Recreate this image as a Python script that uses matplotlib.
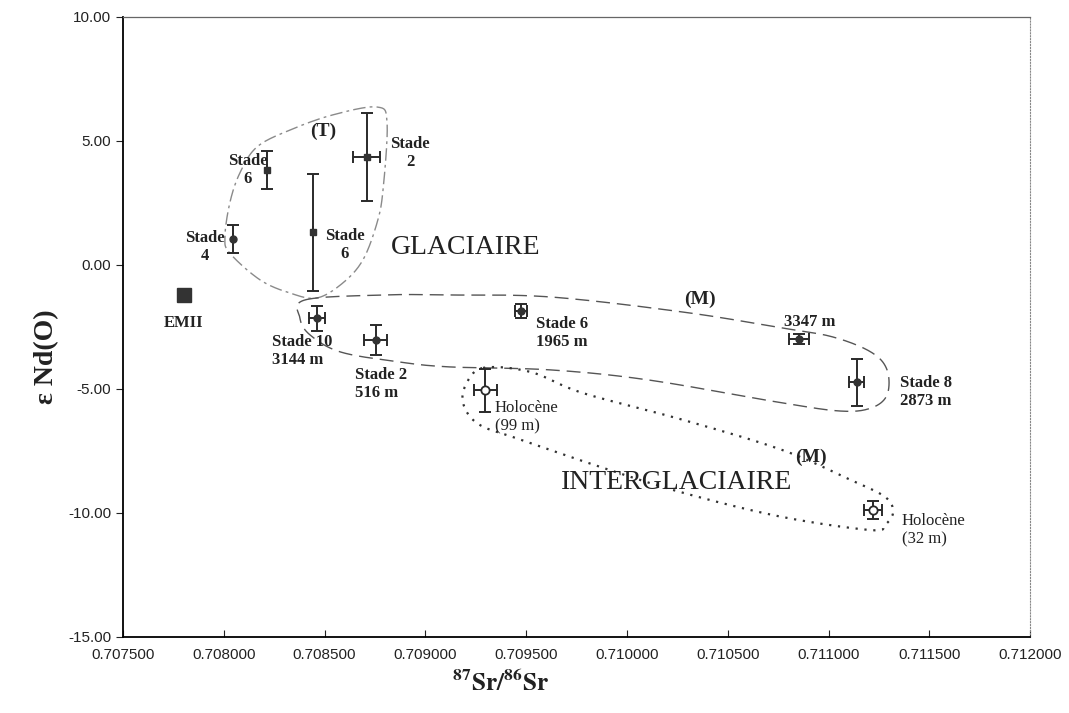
import numpy as np
import matplotlib.pyplot as plt

# Données : rapport 87Sr/86Sr et epsilon Nd(O) des échantillons
noms = ['EMII', 'Stade 4', 'Stade 6', 'Stade 6', 'Stade 2', 'Stade 10', 'Stade 2',
        'Stade 6', 'Holocène', '3347 m', 'Stade 8', 'Holocène']
sr = [0.707803, 0.708044, 0.708213, 0.708444, 0.708709, 0.708461, 0.708755,
      0.709473, 0.709296, 0.710853, 0.711139, 0.711219]
nd = [-1.21, 1.05, 3.82, 1.32, 4.35, -2.15, -3.02, -1.84, -5.05, -3.00, -4.73, -9.88]
err_sr = [0, 0, 0, 0, 0.000066, 0.000039, 0.000057, 0.000030, 0.000057, 0.000050,
          0.000037, 0.000045]
err_nd = [0, 0.55, 0.76, 2.35, 1.77, 0.50, 0.60, 0.28, 0.87, 0.20, 0.94, 0.37]

# Contours tracés à la main autour des groupes (coordonnées des données)
contour_T_x = [0.70876, 0.70881, 0.70879, 0.70876, 0.70869, 0.70859, 0.708462, 0.708328,
               0.70818, 0.70803, 0.708006, 0.70803, 0.70808, 0.708165, 0.708328, 0.70854]
contour_T_y = [6.37, 5.73, 3.02, 1.69, 0.20, -0.73, -1.33, -1.13, -0.60, 0.48, 1.13,
               2.50, 3.71, 4.76, 5.44, 6.05]
contour_M_x = [0.708403, 0.70879, 0.70912, 0.70962, 0.71028, 0.71077, 0.71102, 0.71121,
               0.71129, 0.71129, 0.71121, 0.71106, 0.71077, 0.71011, 0.70962, 0.70912,
               0.70887, 0.70858, 0.708428, 0.708378]
contour_M_y = [-1.41, -1.21, -1.21, -1.29, -1.90, -2.54, -2.90, -3.51, -4.23, -5.24,
               -5.77, -5.89, -5.56, -4.64, -4.23, -4.11, -3.91, -3.51, -2.82, -2.14]
contour_I_x = [0.709286, 0.70952, 0.70978, 0.71028, 0.71077, 0.71111, 0.71128, 0.71132,
               0.71128, 0.71121, 0.71077, 0.71028, 0.70987, 0.70948, 0.70927, 0.70919,
               0.70920]
contour_I_y = [-4.15, -4.31, -5.16, -6.25, -7.46, -8.67, -9.35, -9.96, -10.48, -10.69,
               -10.16, -9.19, -8.15, -7.06, -6.45, -5.65, -4.84]


def courbe_fermee(xs, ys, n=20):
    # Spline de Catmull-Rom fermée pour lisser le contour
    P = np.column_stack([xs, ys])
    m = len(P)
    t = np.linspace(0, 1, n, endpoint=False)[:, None]
    seg = []
    for i in range(m):
        p0, p1, p2, p3 = P[i - 1], P[i], P[(i + 1) % m], P[(i + 2) % m]
        seg.append(0.5 * (2 * p1 + (-p0 + p2) * t + (2 * p0 - 5 * p1 + 4 * p2 - p3) * t ** 2
                          + (-p0 + 3 * p1 - 3 * p2 + p3) * t ** 3))
    c = np.vstack(seg + [seg[0][:1]])
    return c[:, 0], c[:, 1]


plt.rcParams['mathtext.fontset'] = 'stix'
serif = ['Liberation Serif', 'DejaVu Serif']
sans = ['Liberation Sans', 'DejaVu Sans']

fig = plt.figure(figsize=(10.69, 7.13), dpi=100)
ax = fig.add_axes([0.115, 0.1066, 0.8487, 0.8696])

# Contours
cx, cy = courbe_fermee(contour_T_x, contour_T_y)
ax.plot(cx, cy, color='#8a8a8a', lw=1.0, dashes=(9, 3, 2, 3))
cx, cy = courbe_fermee(contour_M_x, contour_M_y)
ax.plot(cx, cy, color='#555555', lw=1.0, dashes=(10, 5))
cx, cy = courbe_fermee(contour_I_x, contour_I_y)
ax.plot(cx, cy, color='#333333', lw=1.6, dashes=(1, 3))

# Barres d'erreur et points
sr = np.array(sr)
nd = np.array(nd)
err_sr = np.array(err_sr)
err_nd = np.array(err_nd)
carres = [2, 3, 4]
ronds = [1, 5, 6, 7, 9, 10]
ouverts = [8, 11]

ax.errorbar(sr[1:], nd[1:], xerr=err_sr[1:], yerr=err_nd[1:], fmt='none',
            ecolor='#2a2a2a', elinewidth=1.4, capsize=4, capthick=1.4)
ax.plot(sr[[0]], nd[[0]], 's', ms=10, color='#333333')
ax.plot(sr[carres], nd[carres], 's', ms=5, color='#333333')
ax.plot(sr[ronds], nd[ronds], 'o', ms=5, color='#333333')
ax.plot(sr[ouverts], nd[ouverts], 'o', ms=6, mfc='white', mec='#2a2a2a', mew=1.3)

# Étiquettes
gras = dict(family=serif, fontsize=12, fontweight='bold', color='#222222')
normal = dict(family=serif, fontsize=12, color='#222222')
ax.text(0.708492, 5.40, '(T)', ha='center', va='center', family=serif, fontsize=14,
        fontweight='bold', color='#222222')
ax.text(0.708120, 3.83, 'Stade\n6', ha='center', va='center', multialignment='center', **gras)
ax.text(0.708924, 4.52, 'Stade\n2', ha='center', va='center', multialignment='center', **gras)
ax.text(0.707907, 0.73, 'Stade\n4', ha='center', va='center', multialignment='center', **gras)
ax.text(0.708601, 0.81, 'Stade\n6', ha='center', va='center', multialignment='center', **gras)
ax.text(0.709201, 0.69, 'GLACIAIRE', ha='center', va='center', family=serif, fontsize=20,
        color='#222222')
ax.text(0.707803, -2.34, 'EMII', ha='center', va='center', **gras)
ax.text(0.708239, -3.47, 'Stade 10\n3144 m', ha='left', va='center', **gras)
ax.text(0.708651, -4.80, 'Stade 2\n516 m', ha='left', va='center', **gras)
ax.text(0.709549, -2.74, 'Stade 6\n1965 m', ha='left', va='center', **gras)
ax.text(0.710362, -1.37, '(M)', ha='center', va='center', family=serif, fontsize=14,
        fontweight='bold', color='#222222')
ax.text(0.710908, -2.31, '3347 m', ha='center', va='center', **gras)
ax.text(0.711354, -5.12, 'Stade 8\n2873 m', ha='left', va='center', **gras)
ax.text(0.709345, -6.13, 'Holocène\n(99 m)', ha='left', va='center', **normal)
ax.text(0.710911, -7.77, '(M)', ha='center', va='center', family=serif, fontsize=14,
        fontweight='bold', color='#222222')
ax.text(0.710247, -8.76, 'INTERGLACIAIRE', ha='center', va='center', family=serif,
        fontsize=20, color='#222222')
ax.text(0.711362, -10.69, 'Holocène\n(32 m)', ha='left', va='center', **normal)

# Axes
ax.set_xlim(0.7075, 0.712)
ax.set_ylim(-15, 10)
ax.set_xticks(np.arange(0.7075, 0.71201, 0.0005))
ax.set_yticks(np.arange(-15, 10.1, 5))
ax.set_xticklabels(['%.6f' % v for v in np.arange(0.7075, 0.71201, 0.0005)],
                   family=sans, fontsize=11)
ax.set_yticklabels(['%.2f' % v for v in np.arange(-15, 10.1, 5)], family=sans, fontsize=11)
ax.tick_params(axis='x', direction='in', length=5, pad=8, colors='#222222')
ax.tick_params(axis='y', direction='out', length=5, colors='#222222')
ax.spines['left'].set_linewidth(1.3)
ax.spines['bottom'].set_linewidth(1.3)
ax.spines['top'].set_color('#666666')
ax.spines['top'].set_linewidth(0.9)
ax.spines['right'].set_color('#888888')
ax.spines['right'].set_linestyle(':')

fig.text(0.468, 0.042, r'$\mathbf{^{87}Sr/^{86}Sr}$', ha='center', va='center',
         fontsize=18, color='#222222')
fig.text(0.044, 0.50, 'ε Nd(O)', rotation=90, ha='center', va='center', family=serif,
         fontsize=20, fontweight='bold', color='#222222')

fig.savefig('out.png', dpi=100)
